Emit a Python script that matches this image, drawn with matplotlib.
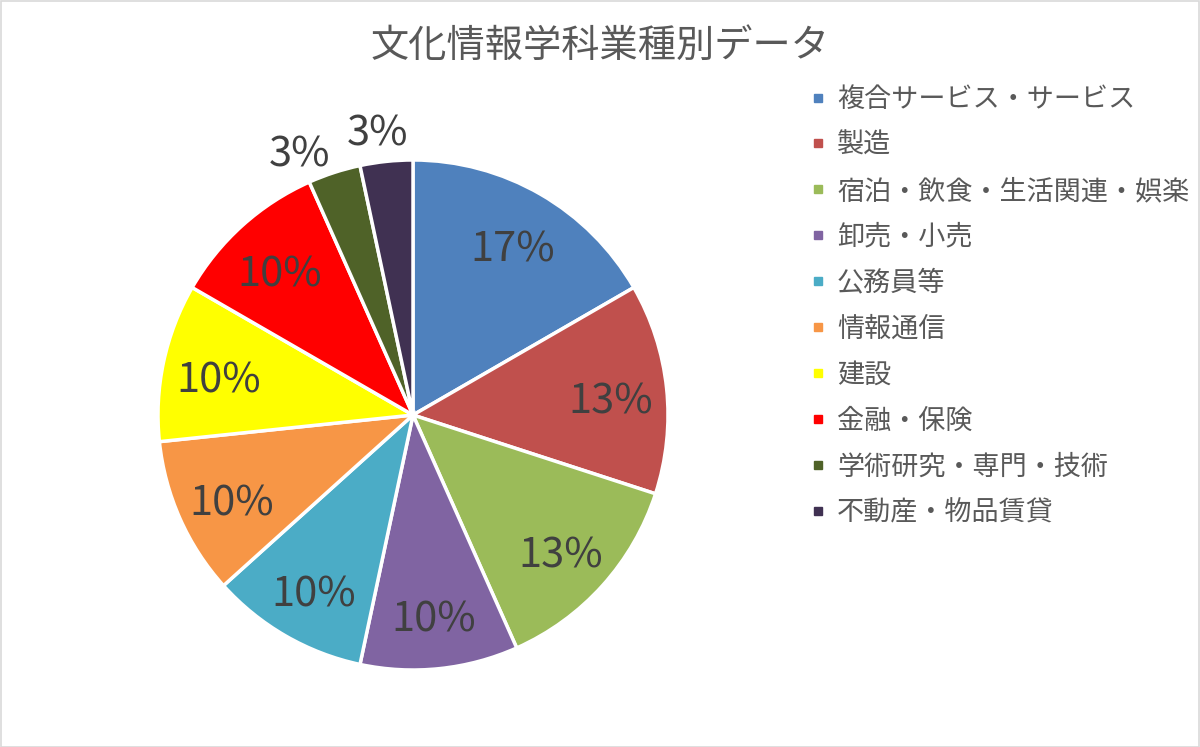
import matplotlib.pyplot as plt
from matplotlib.lines import Line2D
from matplotlib.patches import Rectangle
import numpy as np

plt.rcParams['font.family'] = ['Noto Sans CJK JP', 'DejaVu Sans']

categories = ["複合サービス・サービス", "製造", "宿泊・飲食・生活関連・娯楽", "卸売・小売",
              "公務員等", "情報通信", "建設", "金融・保険", "学術研究・専門・技術", "不動産・物品賃貸"]
counts = [5, 4, 4, 3, 3, 3, 3, 3, 1, 1]
colors = ["#4F81BD", "#C0504D", "#9BBB59", "#8064A2", "#4BACC6",
          "#F79646", "#FFFF00", "#FF0000", "#4F6228", "#403152"]
title = "文化情報学科業種別データ"

W, H = 1200, 747
fig = plt.figure(figsize=(W / 100, H / 100), dpi=100)
fig.patches.append(Rectangle((0.5 / W, 0.5 / H), 1 - 1.5 / W, 1 - 1.5 / H, transform=fig.transFigure,
                             fill=False, edgecolor="#D9D9D9", linewidth=1.2))

cx, cy, r = 413, 415, 255
ax = fig.add_axes([(cx - r) / W, (H - cy - r) / H, 2 * r / W, 2 * r / H])
wedges, texts, autotexts = ax.pie(counts, colors=colors, startangle=90, counterclock=False,
                                  autopct=lambda p: "%d%%" % round(p), pctdistance=0.78,
                                  wedgeprops=dict(edgecolor="white", linewidth=2.5),
                                  textprops=dict(fontsize=30, color="#404040"))
# small slices: labels outside (best fit)
outside_shift = {8: 5, 9: 1}
for i, (w, t) in enumerate(zip(wedges, autotexts)):
    x, y = t.get_position()
    if i in outside_shift:
        ang = np.deg2rad((w.theta1 + w.theta2) / 2 + outside_shift[i])
        x, y = 1.14 * np.cos(ang), 1.14 * np.sin(ang)
    t.set_position((x, y - 0.03))
ax.set_xlim(-1, 1)
ax.set_ylim(-1, 1)
ax.set_aspect("auto")
ax.axis("off")

fig.text(600 / W, 1 - 46 / H, title, ha="center", va="center", fontsize=27.5, color="#595959")

handles = [Line2D([], [], marker="s", linestyle="none", markersize=6, color=c) for c in colors]
leg = fig.legend(handles, categories, loc="upper left", bbox_to_anchor=(810 / W, 1 - 86 / H),
                 frameon=False, fontsize=19.5, labelspacing=0.70, handlelength=0.6,
                 handletextpad=0.4, borderpad=0, borderaxespad=0)
for t in leg.get_texts():
    t.set_color("#595959")

fig.savefig("out.png", dpi=100)
